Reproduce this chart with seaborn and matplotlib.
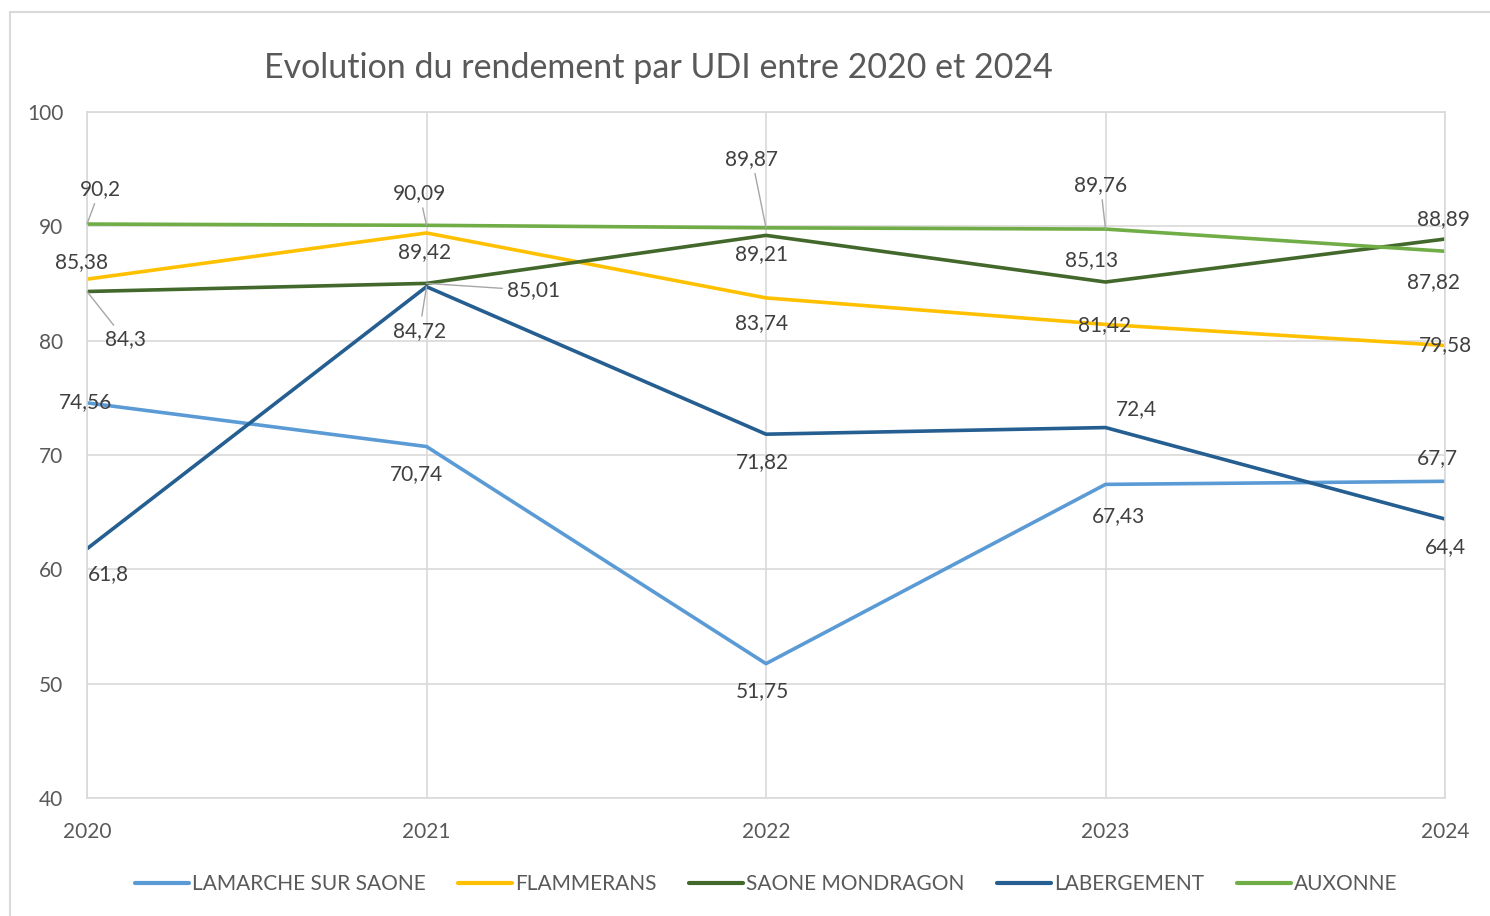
import pandas as pd
import seaborn as sns
import matplotlib.pyplot as plt
from matplotlib.patches import Rectangle

# Données du graphique
annees = [2020, 2021, 2022, 2023, 2024]
lamarche = [74.56, 70.74, 51.75, 67.43, 67.7]
flammerans = [85.38, 89.42, 83.74, 81.42, 79.58]
mondragon = [84.3, 85.01, 89.21, 85.13, 88.89]
labergement = [61.8, 84.72, 71.82, 72.4, 64.4]
auxonne = [90.2, 90.09, 89.87, 89.76, 87.82]

series = {
    'LAMARCHE SUR SAONE': lamarche,
    'FLAMMERANS': flammerans,
    'SAONE MONDRAGON': mondragon,
    'LABERGEMENT': labergement,
    'AUXONNE': auxonne,
}
couleurs = {
    'LAMARCHE SUR SAONE': '#5B9BD5',
    'FLAMMERANS': '#FFC000',
    'SAONE MONDRAGON': '#43682B',
    'LABERGEMENT': '#255E91',
    'AUXONNE': '#70AD47',
}

# décalages des étiquettes (pixels) et traits de rappel
decalages = {
    'LAMARCHE SUR SAONE': [(-2, -1), (-10, 28), (-4, 27), (13, 32), (-8, -23)],
    'FLAMMERANS': [(-5, -17), (-2, 19), (-4, 25), (-1, 1), (0, 0)],
    'SAONE MONDRAGON': [(38, 48), (107, 7), (-4, 19), (-14, -22), (-2, -20)],
    'LABERGEMENT': [(21, 25), (-7, 44), (-4, 28), (31, -18), (0, 28)],
    'AUXONNE': [(13, -35), (-7, -32), (-14, -69), (-5, -44), (-11, 31)],
}
rappels = {('SAONE MONDRAGON', 0), ('SAONE MONDRAGON', 1), ('LABERGEMENT', 1),
            ('AUXONNE', 0), ('AUXONNE', 1), ('AUXONNE', 2), ('AUXONNE', 3)}

df = pd.DataFrame([(a, nom, v) for nom, vals in series.items() for a, v in zip(annees, vals)],
                  columns=['Année', 'UDI', 'Rendement'])

sns.set_theme(style='white')
plt.rcParams['font.family'] = ['Lato', 'DejaVu Sans']
gris = '#595959'

fig = plt.figure(figsize=(14.9, 9.16), dpi=100)
ax = fig.add_axes([87 / 1490, 1 - 798 / 916, (1445 - 87) / 1490, (798 - 112) / 916])

sns.lineplot(data=df, x='Année', y='Rendement', hue='UDI', palette=couleurs,
             linewidth=2.6, ax=ax, legend=True)

ax.set_xlim(2020, 2024)
ax.set_ylim(40, 100)
ax.set_xticks(annees)
ax.set_yticks(range(40, 101, 10))
ax.grid(True, color='#D9D9D9', linewidth=1.2)
ax.set_axisbelow(True)
for s in ax.spines.values():
    s.set_color('#D9D9D9')
    s.set_linewidth(1.2)
ax.tick_params(length=0, labelsize=15, labelcolor=gris)
ax.tick_params(axis='y', pad=17)
ax.tick_params(axis='x', pad=17)
ax.set_xlabel('')
ax.set_ylabel('')

px = 72 / 100
for nom, vals in series.items():
    for i, (a, v) in enumerate(zip(annees, vals)):
        dx, dy = decalages[nom][i]
        props = None
        if (nom, i) in rappels:
            props = dict(arrowstyle='-', color='#A6A6A6', lw=1, shrinkA=1, shrinkB=0)
        ax.annotate(f'{v:g}'.replace('.', ','), xy=(a, v), xytext=(dx * px, -dy * px),
                    textcoords='offset points', ha='center', va='center',
                    fontsize=15, color='#404040', arrowprops=props, zorder=5)

fig.text(658 / 1490, 1 - 68 / 916, 'Evolution du rendement par UDI entre 2020 et 2024',
         ha='center', va='center', fontsize=24.5, color=gris)

leg = ax.legend(loc='center', bbox_to_anchor=(0.5, (798 - 884) / 686), ncol=5, frameon=False,
                fontsize=15, handlelength=2.6, handletextpad=0.15, columnspacing=1.55)
for t in leg.get_texts():
    t.set_color(gris)
for h in leg.get_lines():
    h.set_linewidth(3)

fig.patches.append(Rectangle((10 / 1490, -0.01), 1.0, 1 - 12 / 916 + 0.01, transform=fig.transFigure,
                             fill=False, edgecolor='#D9D9D9', linewidth=1.5))

fig.savefig('out.png', dpi=100)
